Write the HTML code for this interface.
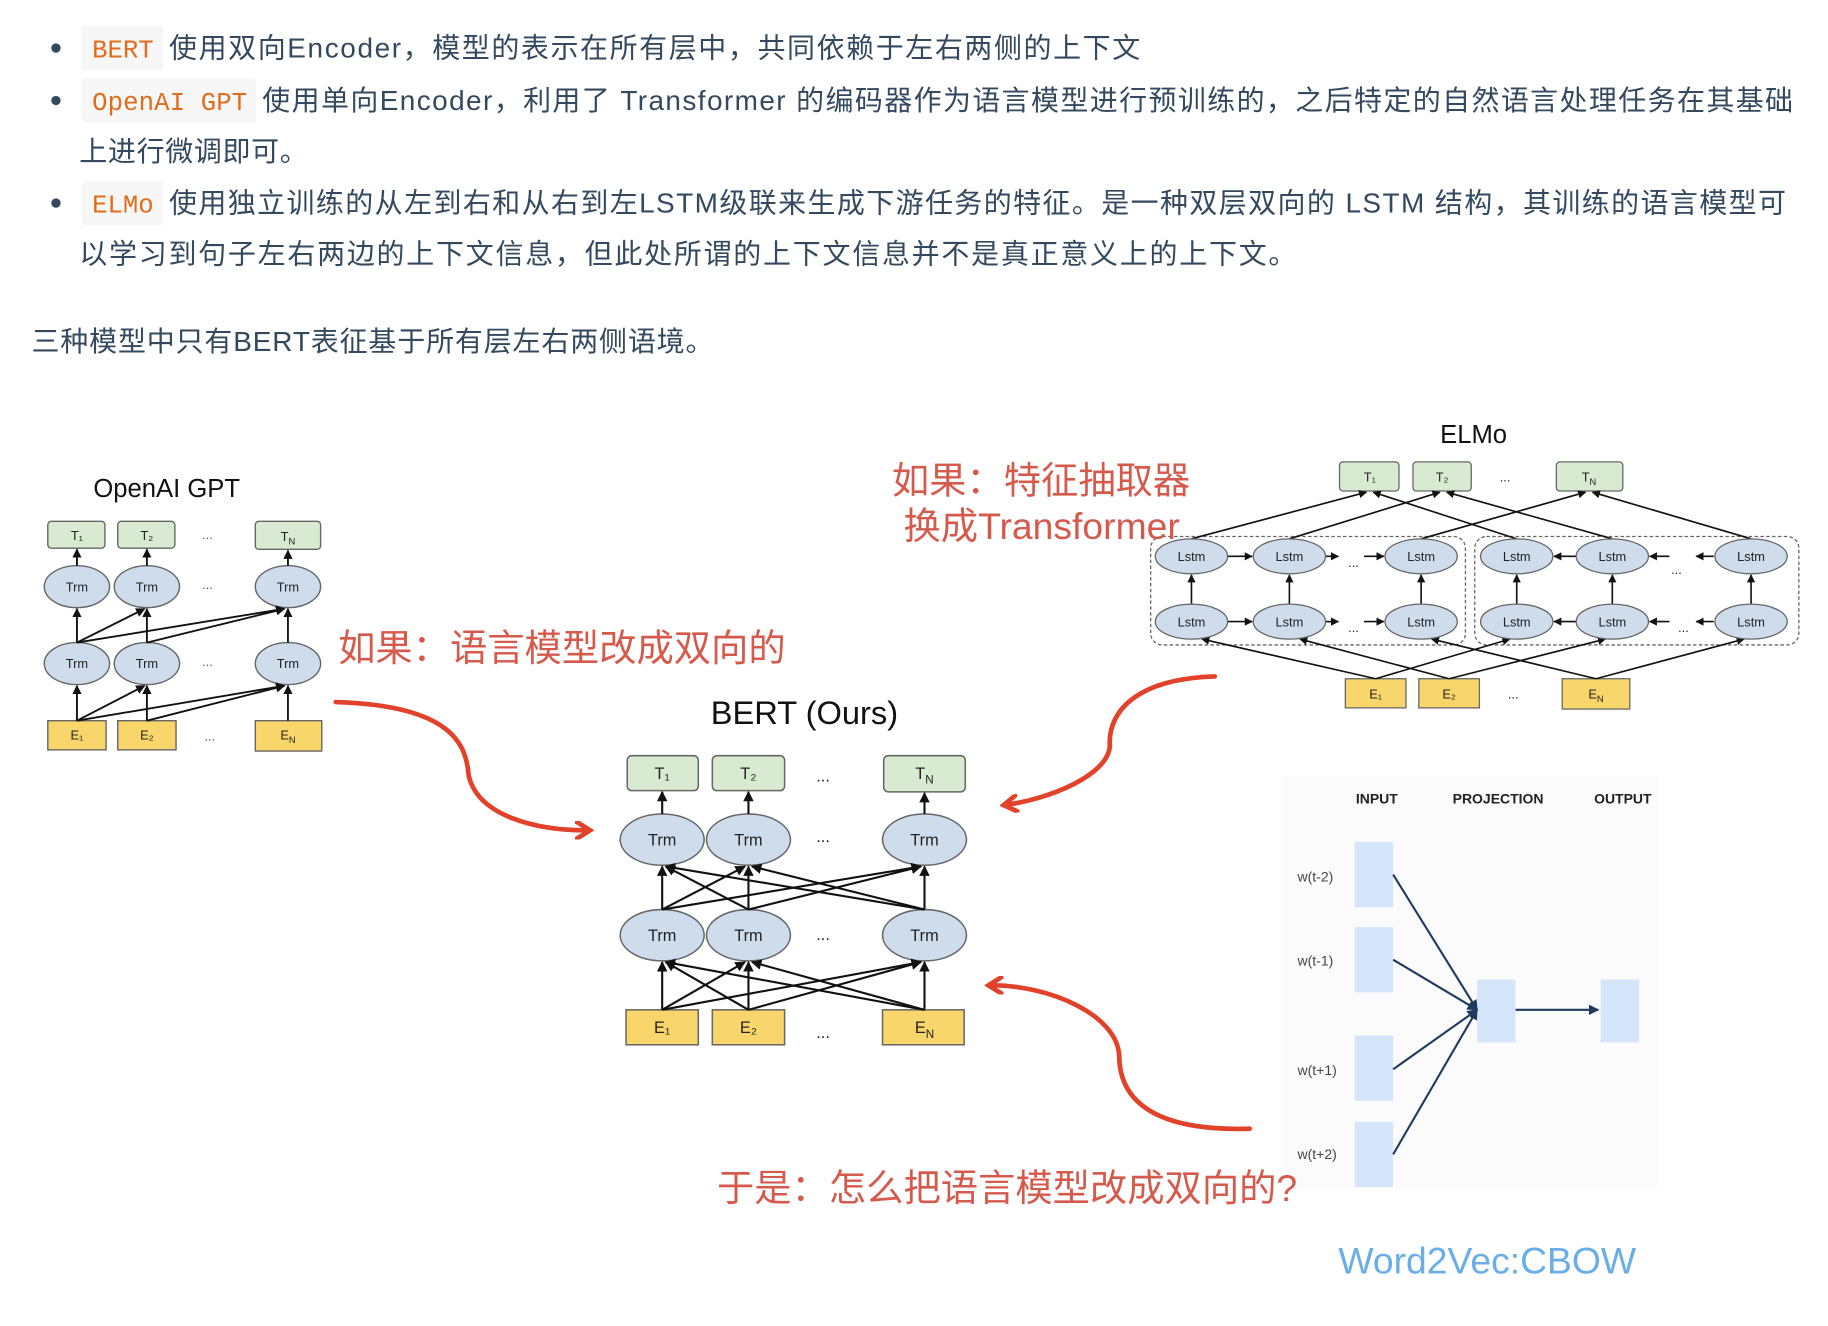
<!DOCTYPE html>
<html><head><meta charset="utf-8"><style>
html,body{margin:0;padding:0;background:#fff;width:1828px;height:1326px;overflow:hidden}
svg{display:block}
.t{font-family:"Liberation Sans","Noto Sans CJK SC",sans-serif;fill:#34495e;font-size:24px}
.c{font-family:"Liberation Mono","Noto Sans CJK SC",monospace;fill:#e36c1c;font-size:22px}
.a{font-family:"Liberation Sans",sans-serif;fill:#111}
.r{font-family:"Liberation Sans","Noto Sans CJK SC",sans-serif;fill:#d65a4c;font-size:32px}
.s{font-family:"Liberation Sans",sans-serif;fill:#222;font-size:12px;text-anchor:middle}
.m{font-family:"Liberation Sans",sans-serif;fill:#555;font-size:11px}
</style></head><body>
<svg width="1828" height="1326" viewBox="0 0 1568 1137" xmlns="http://www.w3.org/2000/svg">
<defs>
<marker id="ah" viewBox="0 0 10 10" refX="9" refY="5" markerWidth="5" markerHeight="5" orient="auto"><path d="M0,0L10,5L0,10z" fill="#111"/></marker>
<marker id="ab" viewBox="0 0 10 10" refX="9" refY="5" markerWidth="5" markerHeight="5" orient="auto"><path d="M0,0L10,5L0,10z" fill="#1f3a5f"/></marker>
<marker id="ar" viewBox="0 0 10 10" refX="6" refY="5" markerWidth="4" markerHeight="4" orient="auto"><path d="M0,0L8,5L0,10" fill="none" stroke="#e2412a" stroke-width="2.5"/></marker>
</defs>
<!-- text -->
<circle cx="48" cy="41" r="4" fill="#34495e"/>
<circle cx="48" cy="86" r="4" fill="#34495e"/>
<circle cx="48" cy="174" r="4" fill="#34495e"/>
<rect x="70" y="22" width="70" height="38" rx="3" fill="#f7f7f7"/>
<rect x="70" y="67" width="150" height="38" rx="3" fill="#f7f7f7"/>
<rect x="70" y="155" width="70" height="38" rx="3" fill="#f7f7f7"/>
<text class="c" x="79" y="49">BERT</text>
<text class="c" x="79" y="94" textLength="133">OpenAI GPT</text>
<text class="c" x="79" y="182">ELMo</text>
<text class="t" x="145" y="49" textLength="833">使用双向Encoder，模型的表示在所有层中，共同依赖于左右两侧的上下文</text>
<text class="t" x="225" y="94" textLength="1313">使用单向Encoder，利用了 Transformer 的编码器作为语言模型进行预训练的，之后特定的自然语言处理任务在其基础</text>
<text class="t" x="68" y="138" textLength="196">上进行微调即可。</text>
<text class="t" x="145" y="182" textLength="1387">使用独立训练的从左到右和从右到左LSTM级联来生成下游任务的特征。是一种双层双向的 LSTM 结构，其训练的语言模型可</text>
<text class="t" x="68" y="226" textLength="1044">以学习到句子左右两边的上下文信息，但此处所谓的上下文信息并不是真正意义上的上下文。</text>
<text class="t" x="27" y="301" textLength="585">三种模型中只有BERT表征基于所有层左右两侧语境。</text>

<!-- GPT -->
<text class="a" x="143" y="426" font-size="22" text-anchor="middle">OpenAI GPT</text>
<g stroke="#666" stroke-width="1.2">
<rect x="41" y="447" width="49" height="23" rx="3" fill="#d9ead3"/><rect x="101" y="447" width="49" height="23" rx="3" fill="#d9ead3"/><rect x="219" y="447" width="56" height="24" rx="3" fill="#d9ead3"/>
<ellipse cx="66" cy="503" rx="28" ry="18" fill="#cfdcec"/><ellipse cx="126" cy="503" rx="28" ry="18" fill="#cfdcec"/><ellipse cx="247" cy="503" rx="28" ry="18" fill="#cfdcec"/>
<ellipse cx="66" cy="569" rx="28" ry="18" fill="#cfdcec"/><ellipse cx="126" cy="569" rx="28" ry="18" fill="#cfdcec"/><ellipse cx="247" cy="569" rx="28" ry="18" fill="#cfdcec"/>
<rect x="41" y="618" width="50" height="25" fill="#f9d66b"/><rect x="101" y="618" width="50" height="25" fill="#f9d66b"/><rect x="219" y="618" width="57" height="26" fill="#f9d66b"/>
</g>
<g stroke="#111" stroke-width="1.6" marker-end="url(#ah)">
<line x1="66" y1="485" x2="66" y2="471"/><line x1="126" y1="485" x2="126" y2="471"/><line x1="247" y1="485" x2="247" y2="472"/>
<line x1="66" y1="551" x2="66" y2="522"/><line x1="126" y1="551" x2="126" y2="522"/><line x1="247" y1="551" x2="247" y2="522"/>
<line x1="66" y1="551" x2="124" y2="522"/><line x1="66" y1="551" x2="244" y2="522"/><line x1="126" y1="551" x2="244" y2="522"/>
<line x1="66" y1="618" x2="66" y2="588"/><line x1="126" y1="618" x2="126" y2="588"/><line x1="247" y1="618" x2="247" y2="588"/>
<line x1="66" y1="618" x2="124" y2="588"/><line x1="66" y1="618" x2="244" y2="588"/><line x1="126" y1="618" x2="244" y2="588"/>
</g>
<g class="m" font-size="11" text-anchor="middle" style="font-family:'Liberation Sans',sans-serif">
<text x="66" y="463" fill="#222">T₁</text><text x="126" y="463" fill="#222">T₂</text><text x="247" y="464" fill="#222">T<tspan font-size="8" dy="3">N</tspan></text>
<text x="66" y="507" fill="#222">Trm</text><text x="126" y="507" fill="#222">Trm</text><text x="247" y="507" fill="#222">Trm</text>
<text x="66" y="573" fill="#222">Trm</text><text x="126" y="573" fill="#222">Trm</text><text x="247" y="573" fill="#222">Trm</text>
<text x="66" y="634" fill="#222">E₁</text><text x="126" y="634" fill="#222">E₂</text><text x="247" y="634" fill="#222">E<tspan font-size="8" dy="3">N</tspan></text>
<text x="178" y="462">...</text><text x="178" y="505">...</text><text x="178" y="571">...</text><text x="180" y="635">...</text>
</g>

<!-- BERT -->
<text class="a" x="690" y="621" font-size="28" text-anchor="middle">BERT (Ours)</text>
<g stroke="#666" stroke-width="1.3">
<rect x="538" y="648" width="61" height="30" rx="4" fill="#d9ead3"/><rect x="611" y="648" width="62" height="30" rx="4" fill="#d9ead3"/><rect x="758" y="648" width="70" height="31" rx="4" fill="#d9ead3"/>
<ellipse cx="568" cy="720" rx="36" ry="22" fill="#cfdcec"/><ellipse cx="642" cy="720" rx="36" ry="22" fill="#cfdcec"/><ellipse cx="793" cy="720" rx="36" ry="22" fill="#cfdcec"/>
<ellipse cx="568" cy="802" rx="36" ry="22" fill="#cfdcec"/><ellipse cx="642" cy="802" rx="36" ry="22" fill="#cfdcec"/><ellipse cx="793" cy="802" rx="36" ry="22" fill="#cfdcec"/>
<rect x="537" y="866" width="62" height="30" fill="#f9d66b"/><rect x="611" y="866" width="62" height="30" fill="#f9d66b"/><rect x="757" y="866" width="70" height="30" fill="#f9d66b"/>
</g>
<g stroke="#111" stroke-width="1.8" marker-end="url(#ah)">
<line x1="568" y1="698" x2="568" y2="679"/><line x1="642" y1="698" x2="642" y2="679"/><line x1="793" y1="698" x2="793" y2="680"/>
<line x1="568" y1="780" x2="568" y2="743"/><line x1="568" y1="780" x2="639" y2="743"/><line x1="568" y1="780" x2="790" y2="743"/>
<line x1="642" y1="780" x2="571" y2="743"/><line x1="642" y1="780" x2="642" y2="743"/><line x1="642" y1="780" x2="790" y2="743"/>
<line x1="793" y1="780" x2="571" y2="743"/><line x1="793" y1="780" x2="645" y2="743"/><line x1="793" y1="780" x2="793" y2="743"/>
<line x1="568" y1="866" x2="568" y2="825"/><line x1="568" y1="866" x2="639" y2="825"/><line x1="568" y1="866" x2="790" y2="825"/>
<line x1="642" y1="866" x2="571" y2="825"/><line x1="642" y1="866" x2="642" y2="825"/><line x1="642" y1="866" x2="790" y2="825"/>
<line x1="793" y1="866" x2="571" y2="825"/><line x1="793" y1="866" x2="645" y2="825"/><line x1="793" y1="866" x2="793" y2="825"/>
</g>
<g font-family="Liberation Sans,sans-serif" font-size="14" text-anchor="middle" fill="#222">
<text x="568" y="668">T₁</text><text x="642" y="668">T₂</text><text x="793" y="668">T<tspan font-size="10" dy="4">N</tspan></text>
<text x="568" y="725">Trm</text><text x="642" y="725">Trm</text><text x="793" y="725">Trm</text>
<text x="568" y="807">Trm</text><text x="642" y="807">Trm</text><text x="793" y="807">Trm</text>
<text x="568" y="886">E₁</text><text x="642" y="886">E₂</text><text x="793" y="886">E<tspan font-size="10" dy="4">N</tspan></text>
<text x="706" y="670">...</text><text x="706" y="722">...</text><text x="706" y="806">...</text><text x="706" y="890">...</text>
</g>

<!-- ELMo -->
<text class="a" x="1264" y="380" font-size="22" text-anchor="middle">ELMo</text>
<g fill="none" stroke="#666" stroke-width="1.1" stroke-dasharray="3,2">
<rect x="987" y="460" width="270" height="93" rx="10"/><rect x="1265" y="460" width="278" height="93" rx="10"/>
</g>
<g stroke="#666" stroke-width="1.1">
<rect x="1149" y="396" width="51" height="25" rx="3" fill="#d9ead3"/><rect x="1212" y="396" width="50" height="25" rx="3" fill="#d9ead3"/><rect x="1335" y="396" width="57" height="25" rx="3" fill="#d9ead3"/>
<rect x="1154" y="582" width="52" height="25" fill="#f9d66b"/><rect x="1217" y="582" width="52" height="25" fill="#f9d66b"/><rect x="1340" y="582" width="58" height="26" fill="#f9d66b"/>
</g>
<g stroke="#111" stroke-width="1.4" marker-end="url(#ah)">
<line x1="1022" y1="462" x2="1172" y2="422"/><line x1="1106" y1="462" x2="1235" y2="422"/><line x1="1219" y1="462" x2="1360" y2="422"/>
<line x1="1301" y1="462" x2="1178" y2="422"/><line x1="1383" y1="462" x2="1241" y2="422"/><line x1="1502" y1="462" x2="1366" y2="422"/>
<line x1="1180" y1="582" x2="1031" y2="548"/><line x1="1180" y1="582" x2="1295" y2="548"/>
<line x1="1243" y1="582" x2="1115" y2="548"/><line x1="1243" y1="582" x2="1377" y2="548"/>
<line x1="1369" y1="582" x2="1228" y2="548"/><line x1="1369" y1="582" x2="1496" y2="548"/>
<line x1="1022" y1="518" x2="1022" y2="493"/><line x1="1106" y1="518" x2="1106" y2="493"/><line x1="1219" y1="518" x2="1219" y2="493"/>
<line x1="1301" y1="518" x2="1301" y2="493"/><line x1="1383" y1="518" x2="1383" y2="493"/><line x1="1502" y1="518" x2="1502" y2="493"/>
<line x1="1053" y1="477" x2="1074" y2="477"/><line x1="1137" y1="477" x2="1148" y2="477"/><line x1="1170" y1="477" x2="1187" y2="477"/>
<line x1="1053" y1="533" x2="1074" y2="533"/><line x1="1137" y1="533" x2="1148" y2="533"/><line x1="1170" y1="533" x2="1187" y2="533"/>
<line x1="1352" y1="477" x2="1333" y2="477"/><line x1="1432" y1="477" x2="1415" y2="477"/><line x1="1470" y1="477" x2="1455" y2="477"/>
<line x1="1352" y1="533" x2="1333" y2="533"/><line x1="1432" y1="533" x2="1415" y2="533"/><line x1="1470" y1="533" x2="1455" y2="533"/>
</g>
<g stroke="#666" stroke-width="1.1" fill="#cfdcec">
<ellipse cx="1022" cy="477" rx="31" ry="15"/><ellipse cx="1106" cy="477" rx="31" ry="15"/><ellipse cx="1219" cy="477" rx="31" ry="15"/>
<ellipse cx="1301" cy="477" rx="31" ry="15"/><ellipse cx="1383" cy="477" rx="31" ry="15"/><ellipse cx="1502" cy="477" rx="31" ry="15"/>
<ellipse cx="1022" cy="533" rx="31" ry="15"/><ellipse cx="1106" cy="533" rx="31" ry="15"/><ellipse cx="1219" cy="533" rx="31" ry="15"/>
<ellipse cx="1301" cy="533" rx="31" ry="15"/><ellipse cx="1383" cy="533" rx="31" ry="15"/><ellipse cx="1502" cy="533" rx="31" ry="15"/>
</g>
<g font-family="Liberation Sans,sans-serif" font-size="11" text-anchor="middle" fill="#222">
<text x="1022" y="481">Lstm</text><text x="1106" y="481">Lstm</text><text x="1219" y="481">Lstm</text><text x="1301" y="481">Lstm</text><text x="1383" y="481">Lstm</text><text x="1502" y="481">Lstm</text>
<text x="1022" y="537">Lstm</text><text x="1106" y="537">Lstm</text><text x="1219" y="537">Lstm</text><text x="1301" y="537">Lstm</text><text x="1383" y="537">Lstm</text><text x="1502" y="537">Lstm</text>
<text x="1175" y="413">T₁</text><text x="1237" y="413">T₂</text><text x="1363" y="413">T<tspan font-size="8" dy="3">N</tspan></text>
<text x="1180" y="599">E₁</text><text x="1243" y="599">E₂</text><text x="1369" y="599">E<tspan font-size="8" dy="3">N</tspan></text>
<text x="1291" y="413">...</text><text x="1298" y="599">...</text><text x="1161" y="486">...</text><text x="1161" y="542">...</text><text x="1438" y="492">...</text><text x="1444" y="542">...</text>
</g>

<!-- Word2Vec -->
<rect x="1100" y="665" width="322" height="355" fill="#fbfbfb"/>
<g font-family="Liberation Sans,sans-serif" font-size="12" font-weight="bold" fill="#222" text-anchor="middle">
<text x="1181" y="689">INPUT</text><text x="1285" y="689">PROJECTION</text><text x="1392" y="689">OUTPUT</text>
</g>
<g fill="#d6e6fa">
<rect x="1162" y="722" width="33" height="56"/><rect x="1162" y="795" width="33" height="56"/><rect x="1162" y="888" width="33" height="56"/><rect x="1162" y="962" width="33" height="56"/>
<rect x="1267" y="840" width="33" height="54"/><rect x="1373" y="840" width="33" height="54"/>
</g>
<g stroke="#1f3a5f" stroke-width="1.8" marker-end="url(#ab)">
<line x1="1195" y1="750" x2="1267" y2="866"/><line x1="1195" y1="823" x2="1267" y2="866"/><line x1="1195" y1="917" x2="1267" y2="866"/><line x1="1195" y1="990" x2="1267" y2="866"/>
<line x1="1300" y1="866" x2="1371" y2="866"/>
</g>
<g font-family="Liberation Sans,sans-serif" font-size="12" fill="#444">
<text x="1113" y="756">w(t-2)</text><text x="1113" y="828">w(t-1)</text><text x="1113" y="922">w(t+1)</text><text x="1113" y="994">w(t+2)</text>
</g>
<text x="1148" y="1092" font-family="Liberation Sans,sans-serif" font-size="32" fill="#6aaee8">Word2Vec:CBOW</text>

<!-- annotations -->
<text class="r" x="765" y="423">如果：特征抽取器</text>
<text class="r" x="775" y="462">换成Transformer</text>
<text class="r" x="290" y="567">如果：语言模型改成双向的</text>
<text class="r" x="615" y="1030">于是：怎么把语言模型改成双向的?</text>
<g fill="none" stroke="#e2412a" stroke-width="4" stroke-linecap="round" marker-end="url(#ar)">
<path d="M288,602 C390,605 400,640 402,665 C410,700 460,712 503,712"/>
<path d="M1042,580 C975,582 950,610 952,640 C950,665 900,685 864,690"/>
<path d="M1072,968 C1000,970 960,950 960,905 C958,870 900,845 851,845"/>
</g>
</svg>
</body></html>
